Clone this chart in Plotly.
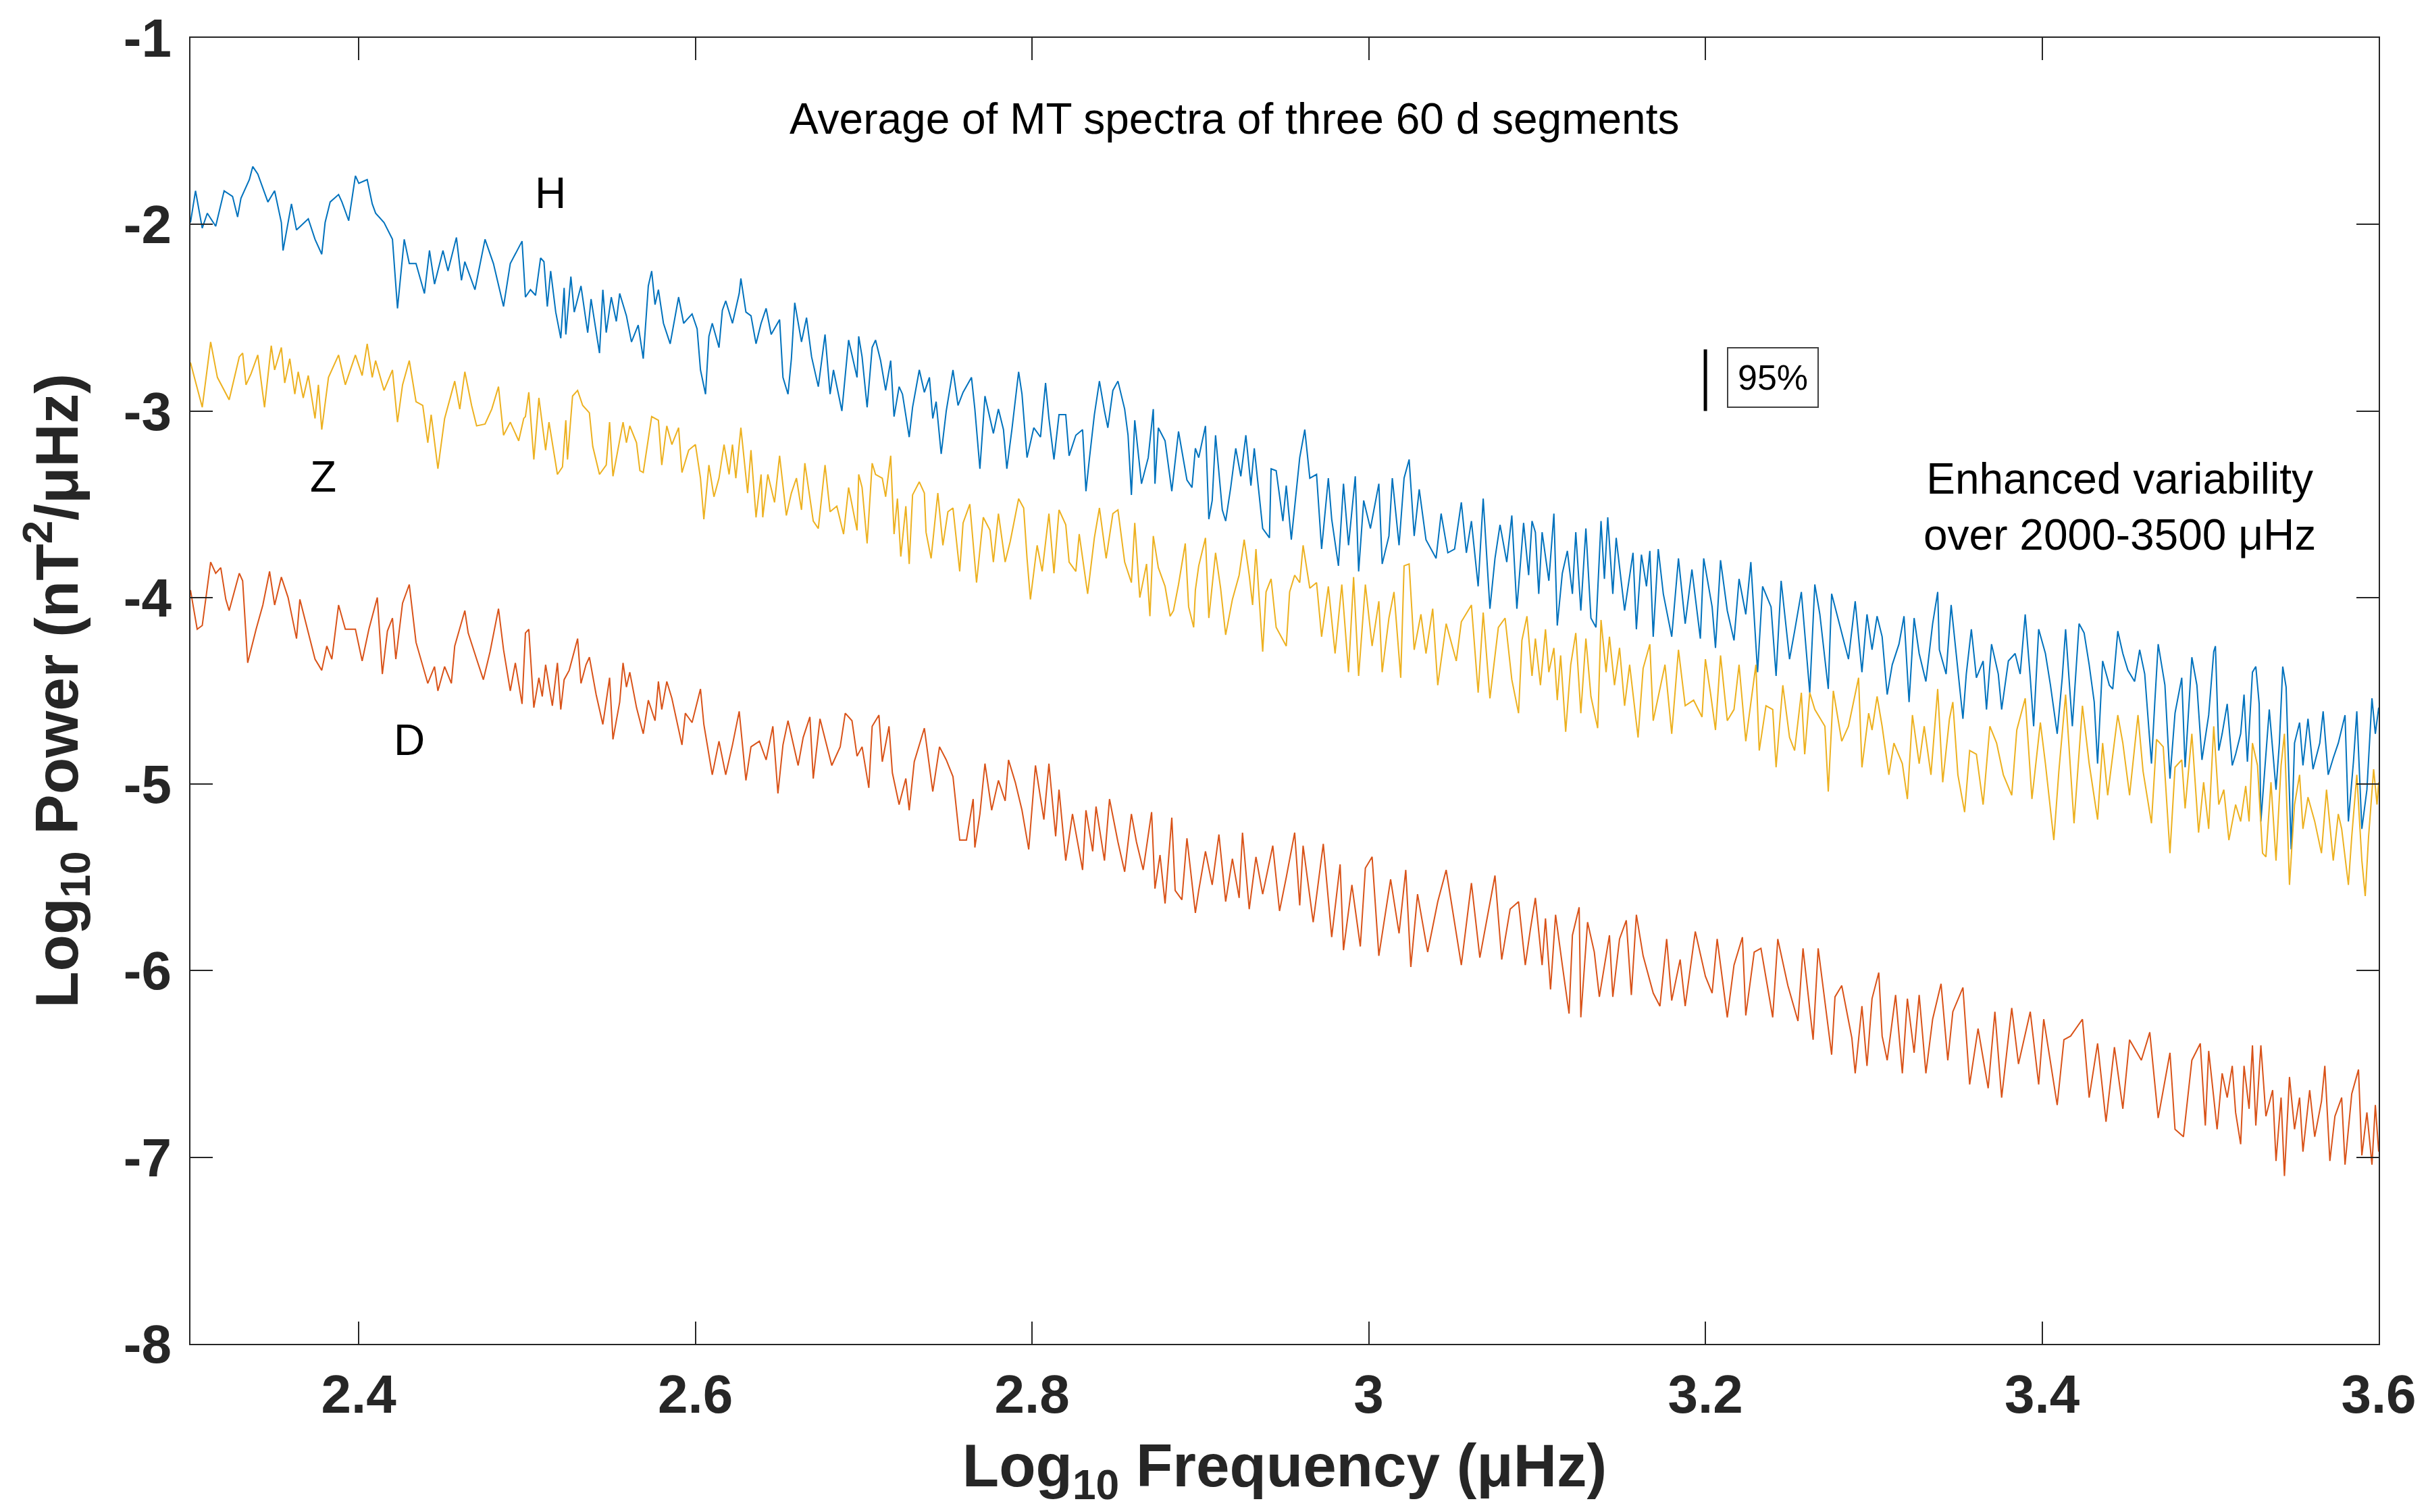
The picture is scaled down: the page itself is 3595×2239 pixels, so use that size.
import plotly.graph_objects as go

# ---------------- data ----------------
H_x = [2.300,2.303,2.307,2.310,2.315,2.320,2.325,2.328,2.330,2.335,2.337,2.340,2.346,2.350,2.354,2.355,2.360,2.363,2.370,2.374,
       2.378,2.380,2.383,2.388,2.390,2.394,2.398,2.400,2.405,2.408,2.410,2.415,2.420,2.423,2.427,2.430,2.434,2.439,2.442,2.445,
       2.450,2.453,2.458,2.461,2.463,2.469,2.475,2.480,2.486,2.490,2.497,
       2.499,2.502,2.505,2.508,2.510,2.512,2.514,2.517,2.520,2.522,2.523,2.526,2.528,2.532,2.536,2.538,2.543,2.545,2.547,2.550,
       2.553,2.555,2.559,2.562,2.566,2.569,2.572,2.574,2.576,2.578,2.581,2.585,2.590,2.593,2.598,2.601,2.603,2.606,2.608,2.610,
       2.614,2.616,2.618,2.622,2.626,2.627,2.630,2.633,2.636,2.639,2.642,2.645,2.650,2.652,2.655,2.657,2.659,2.663,2.666,2.669,
       2.673,2.677,2.680,2.682,2.687,2.691,2.696,2.697,
       2.699,2.702,2.705,2.707,2.710,2.713,2.716,2.718,2.721,2.723,2.727,2.729,2.733,2.736,2.739,2.741,2.743,2.746,2.749,2.753,
       2.756,2.759,2.764,2.766,2.769,2.772,2.777,2.780,2.783,2.785,2.788,2.792,2.794,2.797,2.801,2.805,2.808,2.810,2.813,2.816,
       2.820,2.822,2.826,2.830,2.832,2.834,2.837,2.840,2.843,2.845,2.848,2.851,2.855,2.857,2.859,2.861,2.865,2.869,2.872,2.873,
       2.875,2.879,2.883,2.887,2.892,2.895,2.897,
       2.899,2.903,2.905,2.907,2.909,2.913,2.915,2.918,2.921,2.924,2.927,2.930,2.932,2.935,2.937,2.941,2.942,2.945,2.949,2.951,
       2.954,2.959,2.962,2.965,2.969,2.972,2.976,2.978,2.982,2.985,2.988,2.992,2.994,2.997,3.001,3.006,3.008,3.012,3.014,3.018,
       3.021,3.024,3.027,3.030,3.034,3.040,3.043,3.047,3.051,3.055,3.058,3.061,3.065,3.068,3.072,3.075,3.078,3.082,3.085,3.088,
       3.092,3.095,3.097,
       3.099,3.101,3.103,3.107,3.110,3.112,3.115,3.118,3.121,3.123,3.126,3.129,3.132,3.135,3.138,3.140,3.142,3.145,3.147,3.152,
       3.157,3.159,3.162,3.165,3.167,3.169,3.172,3.175,3.180,3.184,3.188,3.192,3.197,3.199,3.204,3.206,3.209,3.213,3.217,3.220,
       3.224,3.227,3.231,3.234,3.239,3.242,3.245,3.250,3.253,3.257,3.262,3.265,3.268,3.273,3.275,3.280,3.285,3.289,3.293,3.296,
       3.299,3.302,3.305,3.308,3.311,3.315,3.318,3.321,3.324,3.327,3.331,3.335,3.338,3.339,3.343,3.346,3.350,3.353,3.355,3.358,
       3.361,3.365,3.367,3.370,3.374,3.376,3.380,3.384,3.387,3.390,3.393,3.395,3.398,3.402,3.405,3.409,3.412,3.414,3.418,3.422,
       3.425,3.428,3.431,3.433,3.436,3.440,3.442,3.445,3.448,3.451,3.455,3.458,3.461,3.465,3.467,3.469,3.473,3.476,3.479,3.483,
       3.485,3.489,3.492,3.495,
       3.499,3.502,3.503,3.505,3.507,3.510,3.513,3.515,3.518,3.520,3.522,3.525,3.527,3.529,3.530,3.533,3.535,3.539,3.541,3.543,
       3.545,3.548,3.550,3.553,3.555,3.558,3.561,3.565,3.567,3.570,3.573,3.576,3.580,3.582,3.585,3.587,3.590,3.593,3.596,3.598,
       3.600]
H_y = [-1.99,-1.82,-2.02,-1.94,-2.01,-1.82,-1.85,-1.96,-1.86,-1.76,-1.69,-1.73,-1.88,-1.82,-1.99,-2.14,-1.89,-2.03,-1.97,-2.08,
       -2.16,-1.99,-1.88,-1.84,-1.88,-1.98,-1.74,-1.78,-1.76,-1.89,-1.94,-1.99,-2.08,-2.45,-2.08,-2.21,-2.21,-2.37,-2.14,-2.32,
       -2.14,-2.25,-2.07,-2.30,-2.20,-2.35,-2.08,-2.21,-2.44,-2.21,-2.09,
       -2.39,-2.35,-2.38,-2.18,-2.20,-2.44,-2.25,-2.47,-2.61,-2.34,-2.59,-2.28,-2.47,-2.33,-2.58,-2.40,-2.69,-2.35,-2.58,-2.39,
       -2.52,-2.37,-2.49,-2.63,-2.54,-2.72,-2.33,-2.25,-2.43,-2.35,-2.53,-2.64,-2.39,-2.53,-2.48,-2.56,-2.78,-2.91,-2.60,-2.53,
       -2.66,-2.46,-2.41,-2.53,-2.37,-2.29,-2.47,-2.49,-2.64,-2.53,-2.45,-2.59,-2.51,-2.82,-2.91,-2.72,-2.42,-2.63,-2.50,-2.71,
       -2.87,-2.59,-2.91,-2.78,-3.00,-2.62,-2.82,-2.60,
       -2.71,-2.98,-2.66,-2.62,-2.73,-2.89,-2.73,-3.03,-2.87,-2.91,-3.14,-2.98,-2.78,-2.90,-2.82,-3.04,-2.95,-3.23,-3.00,-2.78,
       -2.97,-2.90,-2.82,-2.99,-3.31,-2.92,-3.12,-2.99,-3.10,-3.31,-3.10,-2.79,-2.91,-3.25,-3.09,-3.14,-2.85,-3.04,-3.26,-3.02,
       -3.02,-3.24,-3.13,-3.10,-3.43,-3.26,-3.02,-2.84,-3.00,-3.09,-2.89,-2.84,-2.99,-3.13,-3.45,-3.05,-3.39,-3.25,-2.99,-3.39,
       -3.09,-3.16,-3.43,-3.11,-3.37,-3.41,-3.20,
       -3.25,-3.08,-3.58,-3.48,-3.13,-3.53,-3.59,-3.41,-3.20,-3.35,-3.13,-3.40,-3.20,-3.46,-3.63,-3.68,-3.31,-3.32,-3.59,-3.40,
       -3.69,-3.25,-3.10,-3.36,-3.34,-3.74,-3.36,-3.58,-3.83,-3.39,-3.72,-3.35,-3.86,-3.48,-3.63,-3.39,-3.82,-3.67,-3.36,-3.72,
       -3.36,-3.26,-3.67,-3.42,-3.69,-3.79,-3.55,-3.76,-3.74,-3.49,-3.76,-3.59,-3.94,-3.47,-4.06,-3.79,-3.61,-3.81,-3.56,-4.06,
       -3.60,-3.88,-3.59,
       -3.65,-3.98,-3.65,-3.91,-3.55,-4.15,-3.87,-3.75,-3.98,-3.65,-4.07,-3.63,-4.11,-4.16,-3.59,-3.90,-3.57,-3.98,-3.68,-4.07,
       -3.76,-4.17,-3.77,-3.94,-3.75,-4.21,-3.74,-3.98,-4.21,-3.79,-4.14,-3.85,-4.22,-3.79,-4.05,-4.27,-3.80,-4.07,-4.23,-3.90,
       -4.09,-3.81,-4.40,-3.94,-4.05,-4.42,-3.91,-4.33,-4.18,-3.97,-4.51,-3.93,-4.09,-4.49,-3.98,-4.16,-4.33,-4.02,-4.40,-4.09,
       -4.28,-4.10,-4.21,-4.52,-4.36,-4.25,-4.10,-4.56,-4.11,-4.30,-4.45,-4.14,-3.97,-4.28,-4.41,-4.04,-4.39,-4.65,-4.41,-4.17,
       -4.43,-4.34,-4.60,-4.25,-4.41,-4.60,-4.34,-4.30,-4.41,-4.09,-4.43,-4.69,-4.17,-4.30,-4.47,-4.73,-4.43,-4.17,-4.69,-4.14,
       -4.19,-4.36,-4.56,-4.89,-4.34,-4.47,-4.49,-4.18,-4.30,-4.39,-4.45,-4.28,-4.41,-4.89,-4.56,-4.25,-4.47,-4.97,-4.62,-4.43,
       -4.91,-4.32,-4.47,-4.87,
       -4.63,-4.29,-4.26,-4.82,-4.73,-4.57,-4.90,-4.84,-4.73,-4.52,-4.88,-4.40,-4.37,-4.57,-5.20,-4.82,-4.60,-5.03,-4.78,-4.37,
       -4.48,-5.35,-4.78,-4.67,-4.90,-4.65,-4.92,-4.78,-4.61,-4.95,-4.86,-4.78,-4.63,-5.20,-4.88,-4.61,-5.24,-5.03,-4.54,-4.73,
       -4.59]

Z_x = [2.300,2.307,2.312,2.316,2.323,2.329,2.331,2.333,2.336,2.340,2.344,2.348,2.350,2.354,2.356,2.359,2.362,2.364,2.367,2.370,
       2.374,2.376,2.378,2.382,2.388,2.392,2.398,2.402,2.405,2.408,2.410,2.415,2.420,2.423,2.426,2.430,2.434,2.438,2.441,2.443,
       2.447,2.451,2.457,2.460,2.463,2.467,2.470,2.475,2.479,2.483,2.486,2.490,2.495,2.498,
       2.499,2.501,2.504,2.507,2.511,2.513,2.518,2.521,2.523,2.524,2.527,2.530,2.533,2.537,2.539,2.543,2.547,2.549,2.551,2.554,
       2.557,2.559,2.561,2.565,2.567,2.569,2.574,2.578,2.580,2.583,2.586,2.590,2.592,2.596,2.600,2.603,2.605,2.608,2.611,2.614,
       2.617,2.620,2.622,2.624,2.627,2.631,2.633,2.636,2.639,2.640,2.643,2.647,2.650,2.654,2.657,2.660,2.663,2.665,2.670,2.673,
       2.677,2.680,2.684,2.688,2.691,2.696,2.697,
       2.699,2.702,2.705,2.707,2.711,2.713,2.716,2.718,2.720,2.722,2.725,2.727,2.729,2.733,2.736,2.737,2.740,2.744,2.747,2.750,
       2.753,2.757,2.759,2.763,2.767,2.771,2.775,2.777,2.780,2.784,2.787,2.792,2.795,2.797,2.799,2.803,2.806,2.810,2.813,2.816,
       2.820,2.822,2.826,2.828,2.833,2.837,2.840,2.844,2.848,2.851,2.855,2.859,2.861,2.864,2.868,2.870,2.872,2.875,2.879,2.882,
       2.884,2.887,2.891,2.893,2.896,2.897,
       2.899,2.903,2.905,2.909,2.912,2.915,2.919,2.923,2.926,2.929,2.931,2.933,2.937,2.939,2.942,2.945,2.951,2.953,2.956,2.959,
       2.961,2.965,2.969,2.972,2.976,2.980,2.984,2.988,2.991,2.994,2.998,3.002,3.006,3.008,3.012,3.015,3.019,3.021,3.024,3.027,
       3.031,3.034,3.038,3.041,3.046,3.052,3.055,3.061,3.065,3.068,3.072,3.077,3.081,3.085,3.089,3.091,3.094,3.097,
       3.099,3.102,3.105,3.107,3.110,3.112,3.114,3.117,3.120,3.123,3.126,3.129,3.132,3.136,3.138,3.141,3.143,3.146,3.149,3.152,
       3.155,3.160,3.163,3.167,3.169,3.173,3.176,3.180,3.184,3.188,3.193,3.198,3.200,3.203,3.206,3.209,3.213,3.217,3.220,3.224,
       3.230,3.232,3.236,3.240,3.242,3.246,3.250,3.253,3.257,3.259,3.262,3.265,3.271,3.273,3.276,3.281,3.285,3.291,3.293,3.297,
       3.299,3.302,3.305,3.309,3.312,3.317,3.320,3.323,3.327,3.330,3.334,3.338,3.341,3.345,3.347,3.350,3.354,3.357,3.361,3.365,
       3.369,3.373,3.377,3.382,3.385,3.390,3.394,3.399,3.402,3.407,3.410,3.414,3.419,3.424,3.428,3.433,3.436,3.439,3.445,3.448,
       3.452,3.457,3.460,3.465,3.468,3.472,3.476,3.479,3.483,3.485,3.489,3.493,3.496,
       3.499,3.502,3.505,3.508,3.511,3.515,3.518,3.521,3.523,3.525,3.528,3.531,3.533,3.536,3.539,3.542,3.544,3.547,3.550,3.553,
       3.555,3.558,3.562,3.566,3.569,3.573,3.576,3.578,3.582,3.584,3.587,3.590,3.592,3.594,3.597,3.599,3.600]
Z_y = [-2.74,-2.98,-2.63,-2.82,-2.94,-2.71,-2.69,-2.86,-2.80,-2.70,-2.98,-2.65,-2.78,-2.66,-2.85,-2.72,-2.91,-2.79,-2.93,-2.81,
       -3.04,-2.86,-3.10,-2.82,-2.70,-2.86,-2.70,-2.81,-2.64,-2.82,-2.73,-2.89,-2.78,-3.06,-2.86,-2.73,-2.95,-2.97,-3.17,-3.02,
       -3.31,-3.04,-2.84,-2.99,-2.79,-2.97,-3.08,-3.07,-2.99,-2.87,-3.13,-3.06,-3.16,-3.04,
       -3.03,-2.90,-3.26,-2.93,-3.21,-3.06,-3.34,-3.30,-3.05,-3.26,-2.92,-2.89,-2.97,-3.01,-3.19,-3.34,-3.29,-3.06,-3.35,-3.21,
       -3.06,-3.17,-3.08,-3.17,-3.32,-3.33,-3.03,-3.05,-3.29,-3.08,-3.18,-3.09,-3.33,-3.21,-3.18,-3.36,-3.58,-3.29,-3.46,-3.36,
       -3.18,-3.34,-3.18,-3.36,-3.09,-3.44,-3.21,-3.57,-3.34,-3.57,-3.34,-3.49,-3.24,-3.56,-3.44,-3.36,-3.53,-3.28,-3.59,-3.63,
       -3.29,-3.54,-3.51,-3.66,-3.41,-3.64,-3.34,
       -3.41,-3.71,-3.28,-3.34,-3.36,-3.46,-3.24,-3.66,-3.47,-3.78,-3.51,-3.82,-3.45,-3.38,-3.44,-3.65,-3.79,-3.44,-3.72,-3.54,
       -3.52,-3.86,-3.60,-3.50,-3.92,-3.57,-3.64,-3.81,-3.55,-3.81,-3.70,-3.47,-3.52,-3.79,-4.01,-3.72,-3.86,-3.55,-3.87,-3.53,
       -3.61,-3.81,-3.86,-3.66,-3.98,-3.68,-3.52,-3.79,-3.55,-3.53,-3.81,-3.92,-3.60,-4.00,-3.82,-4.10,-3.67,-3.84,-3.94,-4.10,
       -4.07,-3.93,-3.71,-4.05,-4.16,-3.96,
       -3.83,-3.68,-4.11,-3.76,-3.95,-4.20,-4.01,-3.88,-3.69,-3.88,-4.04,-3.74,-4.29,-3.97,-3.90,-4.16,-4.26,-3.97,-3.88,-3.92,
       -3.72,-3.95,-3.92,-4.21,-3.94,-4.30,-3.93,-4.40,-3.89,-4.42,-3.93,-4.26,-4.02,-4.40,-4.11,-3.97,-4.43,-3.83,-3.82,-4.28,
       -4.09,-4.30,-4.06,-4.47,-4.14,-4.34,-4.13,-4.04,-4.51,-4.08,-4.54,-4.16,-4.11,-4.44,-4.62,-4.23,-4.10,-4.42,
       -4.22,-4.47,-4.17,-4.40,-4.27,-4.55,-4.31,-4.72,-4.36,-4.19,-4.62,-4.22,-4.53,-4.70,-4.12,-4.40,-4.21,-4.47,-4.27,-4.58,
       -4.36,-4.75,-4.38,-4.25,-4.66,-4.49,-4.36,-4.73,-4.28,-4.58,-4.55,-4.64,-4.33,-4.51,-4.71,-4.31,-4.66,-4.60,-4.36,-4.77,
       -4.36,-4.82,-4.58,-4.60,-4.91,-4.47,-4.75,-4.82,-4.51,-4.84,-4.51,-4.60,-4.69,-5.04,-4.50,-4.77,-4.69,-4.43,-4.91,-4.62,
       -4.71,-4.53,-4.69,-4.95,-4.78,-4.89,-5.08,-4.63,-4.89,-4.69,-4.95,-4.49,-4.99,-4.65,-4.56,-4.95,-5.15,-4.82,-4.84,-5.11,
       -4.69,-4.78,-4.95,-5.06,-4.71,-4.54,-5.08,-4.67,-4.89,-5.30,-4.93,-4.52,-5.21,-4.58,-4.89,-5.19,-4.78,-5.06,-4.63,-4.78,
       -5.06,-4.63,-4.93,-5.21,-4.76,-4.80,-5.37,-4.91,-4.87,-5.13,-4.73,-5.26,-4.99,
       -5.24,-4.69,-5.11,-5.03,-5.30,-5.11,-5.20,-5.01,-5.20,-4.78,-4.90,-5.37,-5.39,-4.99,-5.41,-4.90,-4.73,-5.54,-5.11,-4.95,
       -5.24,-5.07,-5.20,-5.37,-5.03,-5.41,-5.16,-5.24,-5.54,-5.28,-4.95,-5.41,-5.60,-5.28,-4.92,-5.11,-4.99]

D_x = [2.300,2.304,2.307,2.312,2.315,2.318,2.321,2.323,2.329,2.331,2.334,2.339,2.343,2.347,2.350,2.354,2.358,2.363,2.365,2.371,
       2.374,2.378,2.381,2.384,2.388,2.392,2.398,2.402,2.406,2.411,2.414,2.417,2.420,2.422,2.426,2.430,2.434,2.441,2.445,2.447,
       2.451,2.455,2.457,2.463,2.465,2.470,2.474,2.478,2.483,2.486,2.490,2.493,2.497,
       2.499,2.501,2.504,2.507,2.509,2.511,2.515,2.518,2.520,2.522,2.525,2.527,2.530,2.532,2.535,2.537,2.541,2.545,2.549,2.551,
       2.555,2.557,2.559,2.561,2.565,2.569,2.572,2.576,2.578,2.580,2.583,2.586,2.592,2.594,2.598,2.603,2.605,2.610,2.614,2.618,
       2.622,2.626,2.630,2.633,2.638,2.642,2.646,2.649,2.652,2.655,2.661,2.664,2.668,2.670,2.674,2.681,2.686,2.689,2.693,2.696,
       2.699,2.703,2.705,2.709,2.711,2.715,2.717,2.721,2.725,2.727,2.730,2.736,2.741,2.745,2.749,2.753,2.757,2.761,2.765,2.766,
       2.769,2.772,2.776,2.780,2.784,2.786,2.790,2.794,2.798,2.802,2.807,2.810,2.814,2.816,2.820,2.824,2.830,2.832,2.836,2.838,
       2.843,2.846,2.851,2.855,2.859,2.862,2.866,2.871,2.873,2.876,2.879,2.883,2.885,2.889,2.892,2.897,
       2.899,2.903,2.907,2.911,2.915,2.919,2.923,2.925,2.929,2.933,2.937,2.943,2.947,2.951,2.956,2.959,2.961,2.967,2.973,2.978,
       2.983,2.985,2.990,2.995,2.998,3.002,3.006,3.013,3.018,3.022,3.025,3.029,3.035,3.041,3.046,3.055,3.061,3.066,3.075,3.079,
       3.084,3.089,3.093,3.096,
       3.099,3.103,3.105,3.108,3.111,3.115,3.119,3.121,3.125,3.126,3.130,3.134,3.137,3.143,3.145,3.149,3.153,3.156,3.159,3.163,
       3.169,3.173,3.177,3.180,3.185,3.188,3.194,3.200,3.204,3.207,3.213,3.217,3.222,3.224,3.229,3.233,3.240,3.243,3.249,3.255,
       3.258,3.264,3.267,3.275,3.277,3.281,3.287,3.289,3.293,3.296,
       3.299,3.303,3.305,3.308,3.313,3.317,3.320,3.324,3.327,3.331,3.335,3.340,3.344,3.347,3.353,3.357,3.362,3.368,3.372,3.376,
       3.382,3.386,3.393,3.398,3.401,3.409,3.413,3.417,3.424,3.428,3.433,3.438,3.443,3.448,3.452,3.459,3.464,3.469,3.476,3.479,
       3.484,3.489,3.494,3.497,
       3.499,3.502,3.504,3.507,3.510,3.513,3.515,3.518,3.520,3.523,3.525,3.527,3.530,3.533,3.537,3.539,3.542,3.544,3.547,3.550,
       3.553,3.555,3.559,3.562,3.566,3.568,3.571,3.574,3.578,3.580,3.584,3.588,3.590,3.593,3.596,3.598,3.600]
D_y = [-3.96,-4.17,-4.15,-3.81,-3.87,-3.84,-4.01,-4.07,-3.87,-3.91,-4.35,-4.17,-4.04,-3.86,-4.04,-3.89,-4.00,-4.22,-4.01,-4.22,
       -4.33,-4.39,-4.26,-4.33,-4.04,-4.17,-4.17,-4.34,-4.17,-4.00,-4.41,-4.18,-4.11,-4.33,-4.03,-3.93,-4.24,-4.46,-4.37,-4.50,
       -4.37,-4.46,-4.26,-4.07,-4.19,-4.33,-4.44,-4.29,-4.06,-4.28,-4.50,-4.35,-4.57,
       -4.19,-4.17,-4.59,-4.43,-4.53,-4.36,-4.58,-4.35,-4.60,-4.44,-4.39,-4.32,-4.22,-4.46,-4.36,-4.32,-4.52,-4.68,-4.43,-4.76,
       -4.56,-4.35,-4.48,-4.40,-4.59,-4.73,-4.55,-4.66,-4.45,-4.60,-4.45,-4.54,-4.79,-4.62,-4.67,-4.49,-4.68,-4.95,-4.77,-4.95,
       -4.79,-4.61,-4.98,-4.80,-4.77,-4.87,-4.69,-5.05,-4.79,-4.66,-4.90,-4.75,-4.64,-4.97,-4.65,-4.90,-4.80,-4.62,-4.66,-4.85,
       -4.80,-5.02,-4.69,-4.63,-4.88,-4.69,-4.94,-5.11,-4.97,-5.14,-4.88,-4.70,-5.04,-4.80,-4.87,-4.96,-5.30,-5.30,-5.08,-5.34,
       -5.16,-4.89,-5.14,-4.98,-5.09,-4.87,-4.99,-5.14,-5.35,-4.90,-5.19,-4.89,-5.28,-5.03,-5.41,-5.16,-5.46,-5.14,-5.36,-5.12,
       -5.41,-5.08,-5.31,-5.47,-5.16,-5.31,-5.46,-5.15,-5.56,-5.38,-5.64,-5.18,-5.57,-5.62,-5.29,-5.69,
       -5.57,-5.36,-5.54,-5.27,-5.63,-5.40,-5.61,-5.26,-5.67,-5.39,-5.59,-5.33,-5.68,-5.50,-5.26,-5.65,-5.33,-5.74,-5.32,-5.82,
       -5.43,-5.89,-5.54,-5.87,-5.45,-5.39,-5.92,-5.51,-5.80,-5.46,-5.98,-5.59,-5.90,-5.63,-5.46,-5.97,-5.53,-5.93,-5.49,-5.94,
       -5.67,-5.63,-5.97,-5.78,
       -5.61,-5.97,-5.72,-6.10,-5.70,-5.97,-6.23,-5.81,-5.66,-6.25,-5.74,-5.90,-6.14,-5.81,-6.14,-5.83,-5.73,-6.13,-5.70,-5.92,
       -6.12,-6.19,-5.83,-6.16,-5.94,-6.19,-5.79,-6.03,-6.12,-5.83,-6.25,-5.97,-5.82,-6.24,-5.90,-5.88,-6.25,-5.83,-6.08,-6.27,
       -5.88,-6.37,-5.88,-6.45,-6.14,-6.08,-6.36,-6.55,-6.19,-6.51,
       -6.15,-6.01,-6.35,-6.48,-6.13,-6.55,-6.15,-6.44,-6.13,-6.55,-6.26,-6.07,-6.48,-6.22,-6.09,-6.61,-6.31,-6.63,-6.22,-6.68,
       -6.20,-6.50,-6.22,-6.61,-6.26,-6.72,-6.37,-6.35,-6.26,-6.68,-6.39,-6.81,-6.41,-6.74,-6.37,-6.48,-6.33,-6.79,-6.44,-6.85,
       -6.89,-6.48,-6.39,-6.83,
       -6.43,-6.68,-6.85,-6.55,-6.68,-6.51,-6.76,-6.93,-6.51,-6.74,-6.40,-6.83,-6.40,-6.78,-6.64,-7.02,-6.68,-7.10,-6.57,-6.85,
       -6.68,-6.97,-6.64,-6.89,-6.70,-6.51,-7.02,-6.78,-6.68,-7.04,-6.66,-6.53,-6.99,-6.76,-7.04,-6.72,-6.97]

# 95% confidence bar
ci_x = [3.2, 3.2]
ci_y = [-3.0, -2.67]

x_tickvals = [2.4, 2.6, 2.8, 3.0, 3.2, 3.4, 3.6]
x_ticktext = ["2.4", "2.6", "2.8", "3", "3.2", "3.4", "3.6"]
y_tickvals = [-8, -7, -6, -5, -4, -3, -2, -1]
y_ticktext = ["-8", "-7", "-6", "-5", "-4", "-3", "-2", "-1"]

# ---------------- figure ----------------
BLUE, ORANGE, YELLOW = "#0072BD", "#D95319", "#EDB120"
FONT = "Liberation Sans, Arial, Helvetica, sans-serif"
AX = "#262626"

fig = go.Figure()
fig.add_trace(go.Scatter(x=H_x, y=H_y, mode="lines", line=dict(color=BLUE, width=2), name="H"))
fig.add_trace(go.Scatter(x=D_x, y=D_y, mode="lines", line=dict(color=ORANGE, width=2), name="D"))
fig.add_trace(go.Scatter(x=Z_x, y=Z_y, mode="lines", line=dict(color=YELLOW, width=2), name="Z"))
fig.add_trace(go.Scatter(x=ci_x, y=ci_y, mode="lines", line=dict(color="black", width=5), name="95%"))

axis_common = dict(
    showgrid=False, zeroline=False, showline=True, linecolor=AX, linewidth=2,
    mirror="allticks", ticks="inside", ticklen=33, tickwidth=2, tickcolor=AX,
    tickfont=dict(family=FONT, size=80, color=AX, weight="bold"),
)

fig.update_layout(
    width=3595, height=2239,
    margin=dict(l=282, r=73, t=46, b=249),
    paper_bgcolor="white", plot_bgcolor="white",
    showlegend=False,
    font=dict(family=FONT, color="black"),
    xaxis=dict(range=[2.3, 3.6], tickvals=x_tickvals, ticktext=x_ticktext,
               ticklabelstandoff=4,
               title=dict(text="Log<sub>10</sub> Frequency (μHz)", standoff=31,
                          font=dict(family=FONT, size=89, color=AX, weight="bold")),
               **axis_common),
    yaxis=dict(range=[-8, -1], tickvals=y_tickvals, ticktext=y_ticktext,
               ticklabelstandoff=10,
               title=dict(text="Log<sub>10</sub> Power (nT<sup>2</sup>/μHz)", standoff=38,
                          font=dict(family=FONT, size=89, color=AX, weight="bold")),
               **axis_common),
)

ann_font = dict(family=FONT, size=64, color="black")
fig.add_annotation(x=2.920, y=-1.436, text="Average of MT spectra of three 60 d segments",
                   showarrow=False, font=ann_font, xanchor="center", yanchor="middle")
fig.add_annotation(x=2.514, y=-1.832, text="H", showarrow=False, font=ann_font)
fig.add_annotation(x=2.379, y=-3.352, text="Z", showarrow=False, font=ann_font)
fig.add_annotation(x=2.430, y=-4.763, text="D", showarrow=False, font=ann_font)
fig.add_annotation(x=3.446, y=-3.515, text="Enhanced variability<br>over 2000-3500 μHz",
                   showarrow=False, font=ann_font, align="center")
fig.add_annotation(x=3.240, y=-2.822, text="95%", showarrow=False,
                   font=dict(family=FONT, size=52, color="black"),
                   bordercolor="#404040", borderwidth=2, borderpad=14, bgcolor="white")

fig.write_html("out.html")
